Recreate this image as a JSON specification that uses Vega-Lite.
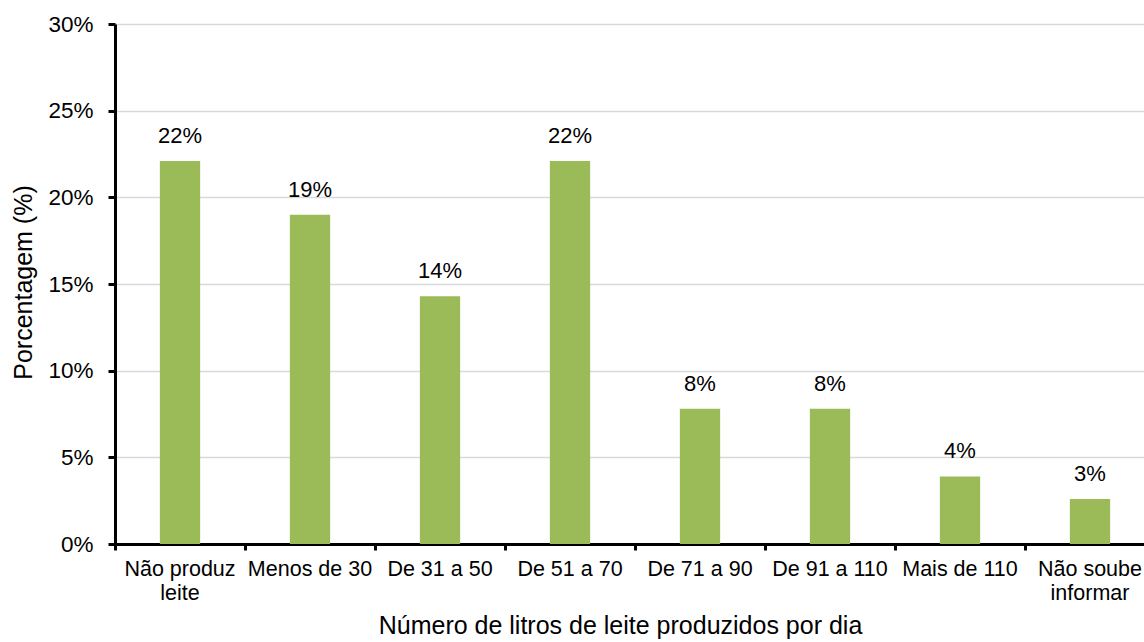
{
  "$schema": "https://vega.github.io/schema/vega-lite/v6.json",
  "width": 1029,
  "height": 520,
  "autosize": {"type": "none"},
  "padding": {"left": 115, "top": 24, "right": 0, "bottom": 98},
  "background": "white",
  "config": {
    "view": {"stroke": null},
    "font": "Liberation Sans"
  },
  "data": {
    "values": [
      {"cat": "Não produz leite", "pct": 0.221},
      {"cat": "Menos de 30", "pct": 0.190},
      {"cat": "De 31 a 50", "pct": 0.143},
      {"cat": "De 51 a 70", "pct": 0.221},
      {"cat": "De 71 a 90", "pct": 0.078},
      {"cat": "De 91 a 110", "pct": 0.078},
      {"cat": "Mais de 110", "pct": 0.039},
      {"cat": "Não soube informar", "pct": 0.026}
    ]
  },
  "encoding": {
    "x": {
      "field": "cat",
      "type": "nominal",
      "sort": null,
      "scale": {"range": [0, 1040], "paddingInner": 0, "paddingOuter": 0},
      "axis": {
        "title": "Número de litros de leite produzidos por dia",
        "titleFontSize": 25,
        "titleFontWeight": "normal",
        "titleColor": "#000000",
        "titleX": 505,
        "titleY": 89,
        "titleBaseline": "alphabetic",
        "labelAngle": 0,
        "labelFontSize": 21.5,
        "labelColor": "#000000",
        "labelPadding": 8,
        "labelLineHeight": 24,
        "labelExpr": "datum.value == 'Não produz leite' ? ['Não produz', 'leite'] : datum.value == 'Não soube informar' ? ['Não soube', 'informar'] : datum.value",
        "bandPosition": 0,
        "domainColor": "#000000",
        "domainWidth": 3,
        "tickColor": "#000000",
        "tickWidth": 3,
        "tickSize": 6,
        "grid": false
      }
    },
    "y": {
      "field": "pct",
      "type": "quantitative",
      "scale": {"domain": [0, 0.3], "nice": false},
      "axis": {
        "title": "Porcentagem (%)",
        "titleFontSize": 25,
        "titleFontWeight": "normal",
        "titleColor": "#000000",
        "titleAngle": 270,
        "titleX": -84,
        "titleY": 258,
        "titleBaseline": "alphabetic",
        "titleAlign": "center",
        "format": ".0%",
        "values": [0, 0.05, 0.1, 0.15, 0.2, 0.25, 0.3],
        "labelFontSize": 22.5,
        "labelColor": "#000000",
        "labelPadding": 15,
        "domainColor": "#000000",
        "domainWidth": 3,
        "tickColor": "#000000",
        "tickWidth": 3,
        "tickSize": 7,
        "gridColor": "#d9d9d9",
        "gridWidth": 1.5
      }
    }
  },
  "layer": [
    {
      "mark": {"type": "bar", "color": "#9BBB59", "width": {"band": 0.31}}
    },
    {
      "mark": {"type": "text", "dy": -18, "baseline": "alphabetic", "fontSize": 22, "color": "#000000"},
      "encoding": {
        "text": {"field": "pct", "type": "quantitative", "format": ".0%"}
      }
    }
  ]
}
